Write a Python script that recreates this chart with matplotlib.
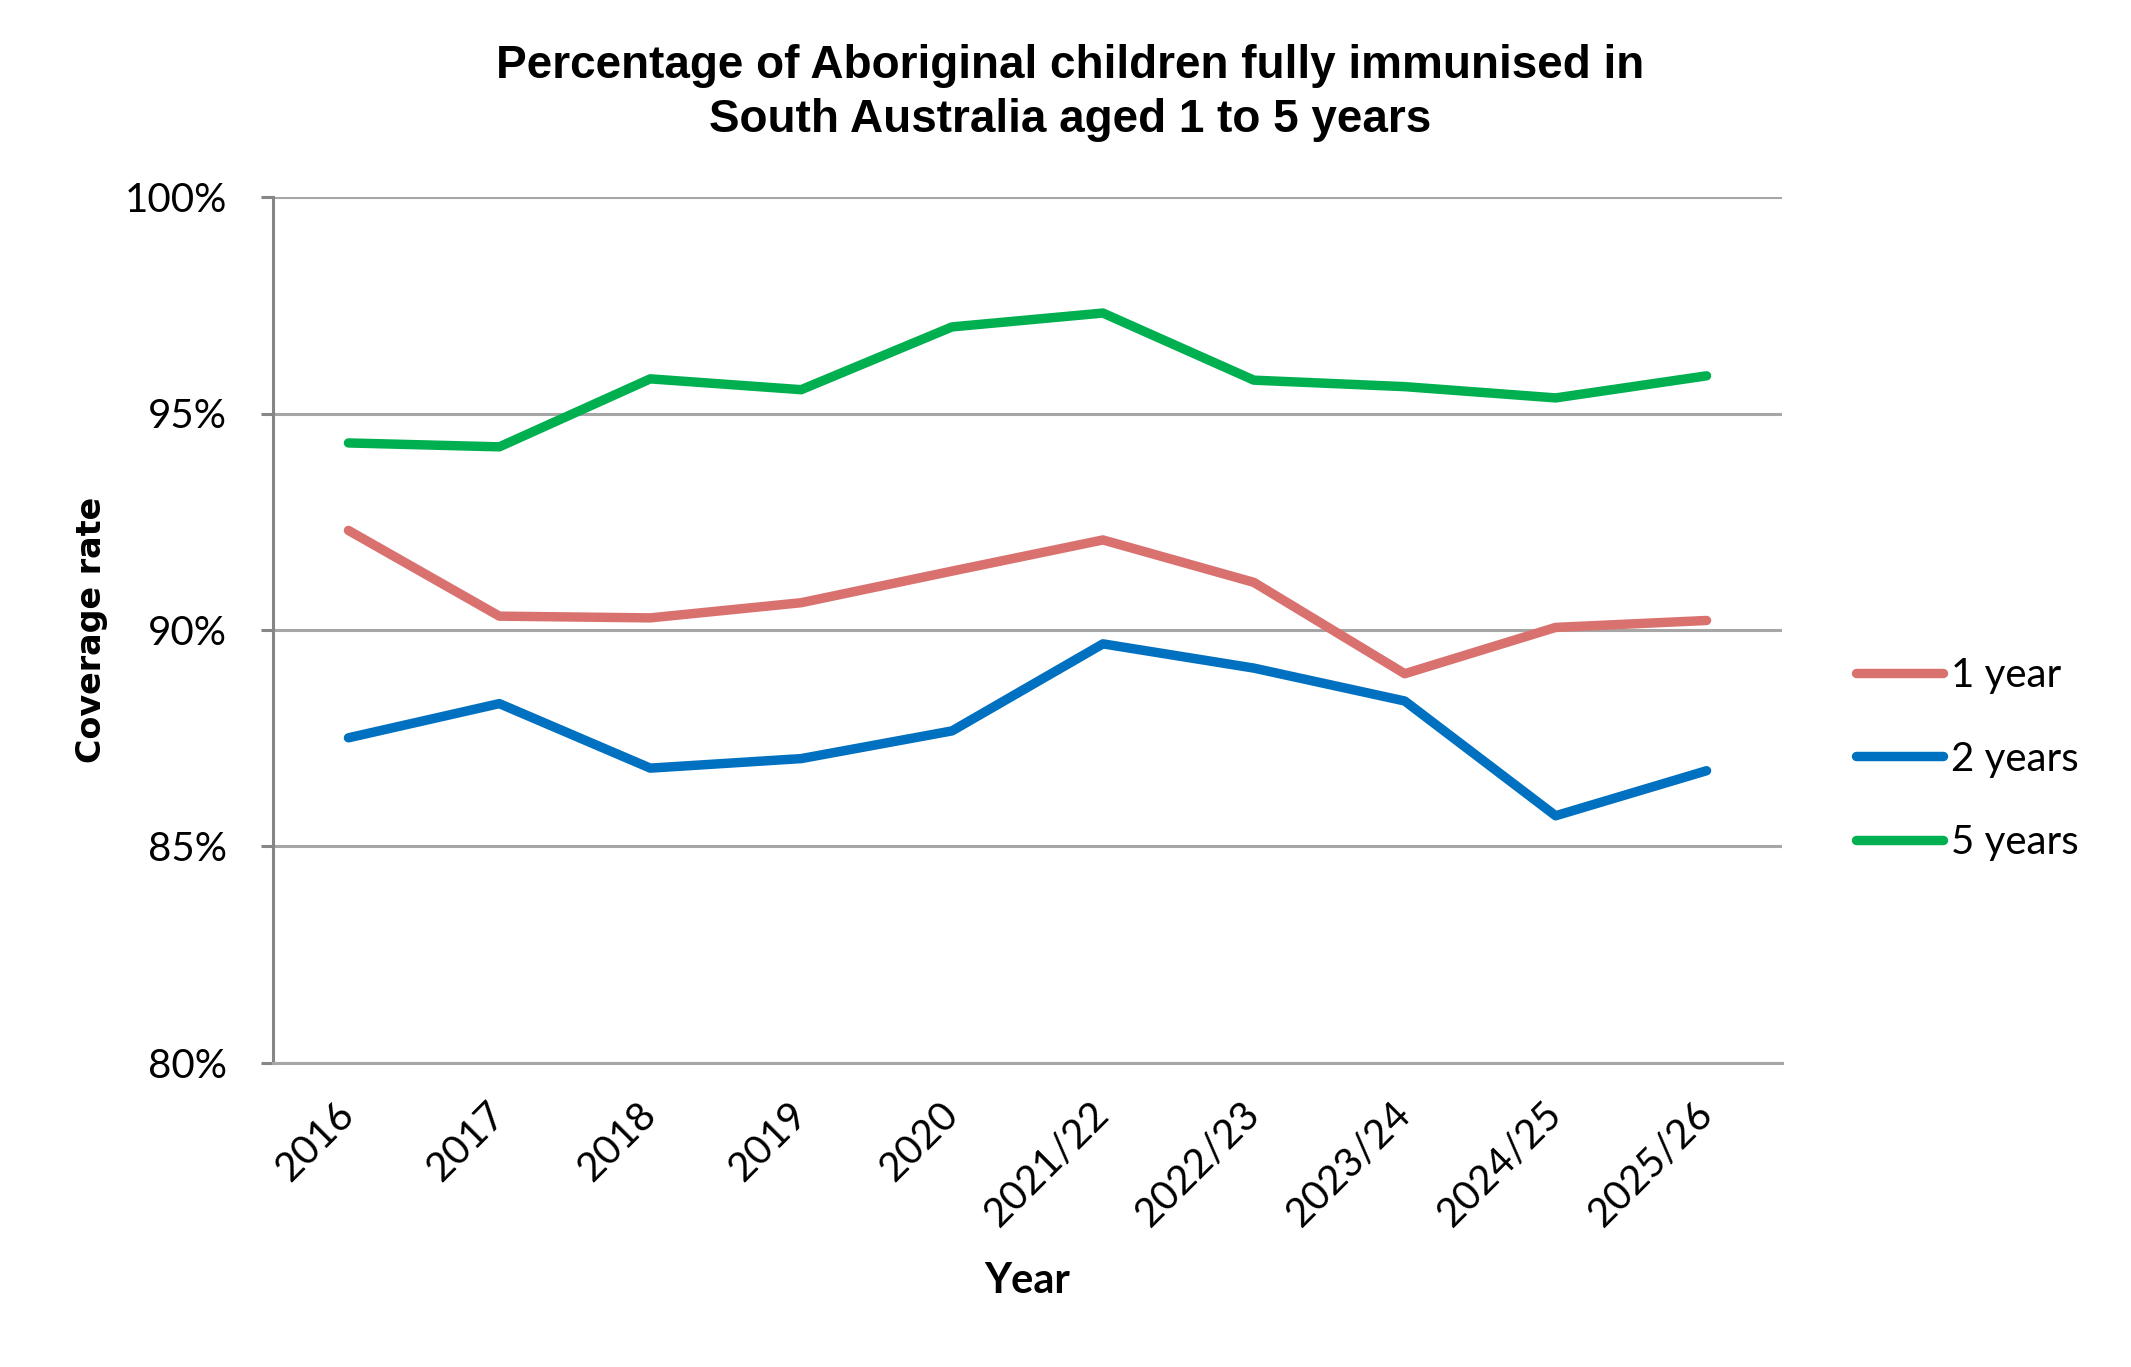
import matplotlib
matplotlib.use("Agg")
import matplotlib.pyplot as plt
from matplotlib.ticker import FuncFormatter

# 数据
年份 = ["2016", "2017", "2018", "2019", "2020",
        "2021/22", "2022/23", "2023/24", "2024/25", "2025/26"]
一岁 = [92.30, 90.32, 90.28, 90.63, 91.36, 92.08, 91.10, 88.99, 90.06, 90.22]
两岁 = [87.51, 88.30, 86.81, 87.03, 87.67, 89.68, 89.12, 88.36, 85.71, 86.75]
五岁 = [94.32, 94.23, 95.80, 95.55, 97.00, 97.32, 95.77, 95.62, 95.36, 95.87]
系列名 = ["1 year", "2 years", "5 years"]
y刻度 = [80, 85, 90, 95, 100]

色 = {"1 year": "#D9726F", "2 years": "#0070C0", "5 years": "#00B050"}
网格色 = "#A6A6A6"; 轴色 = "#868686"
字 = ["Lato", "DejaVu Sans"]

W, H = 2131, 1367
fig = plt.figure(figsize=(W / 100, H / 100), dpi=100)
ax = fig.add_axes([273 / W, 1 - 1063 / H, 1509 / W, 866 / H])

x = list(range(len(年份)))
for 名, 值 in zip(系列名, [一岁, 两岁, 五岁]):
    ax.plot(x, 值, color=色[名], lw=6.8, solid_capstyle="round",
            solid_joinstyle="round", label=名, zorder=3)

ax.set_xlim(-0.5, len(年份) - 0.5)
ax.set_ylim(80, 100)
ax.set_yticks(y刻度)
ax.yaxis.set_major_formatter(FuncFormatter(lambda v, p: f"{v:.0f}%"))
ax.grid(axis="y", color=网格色, lw=2.2, zorder=1)
ax.set_axisbelow(True)

for s in ["top", "right"]:
    ax.spines[s].set_visible(False)
ax.spines["left"].set_color(轴色); ax.spines["left"].set_linewidth(2.2)
ax.spines["bottom"].set_color(网格色); ax.spines["bottom"].set_linewidth(2.2)

ax.tick_params(axis="y", length=9, width=2.2, color=轴色, pad=24,
               labelsize=29)
ax.tick_params(axis="x", length=0, pad=33, labelsize=29)
ax.set_xticks(x)
ax.set_xticklabels(年份, rotation=45, ha="right", va="center",
                   rotation_mode="anchor")
for t in ax.get_xticklabels() + ax.get_yticklabels():
    t.set_family(字)

ax.set_xlabel("Year", family=字, fontsize=30, fontweight="bold", labelpad=20)
ax.set_ylabel("Coverage rate", family=["DejaVu Sans"], fontsize=24,
              fontweight="bold", labelpad=12)

fig.text(1070 / W, 1 - 93 / H,
         "Percentage of Aboriginal children fully immunised in\nSouth Australia aged 1 to 5 years",
         ha="center", va="center", fontsize=33, fontweight="bold",
         family=["Liberation Sans", "DejaVu Sans"], linespacing=1.3)

lg = ax.legend(loc="center left", bbox_to_anchor=(1836 / W, 1 - 759 / H),
               bbox_transform=fig.transFigure, frameon=False,
               prop={"family": 字, "size": 29}, handlelength=2.15,
               handletextpad=0.2, labelspacing=1.15, borderpad=0)

fig.savefig("out.png", dpi=100, facecolor="white")
